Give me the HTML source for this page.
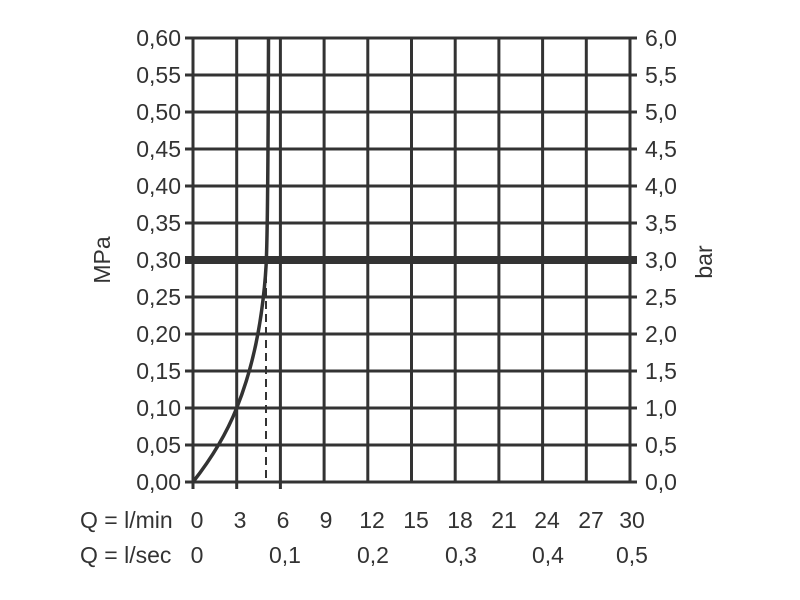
<!DOCTYPE html>
<html><head><style>
html,body{margin:0;padding:0;background:#fff;}
svg{display:block;}
text{font-family:"Liberation Sans",sans-serif;font-size:23px;fill:#333;}
</style></head><body>
<svg width="800" height="600" viewBox="0 0 800 600">
<g stroke="#333" stroke-width="3" fill="none">
<line x1="185" y1="38" x2="637" y2="38"/>
<line x1="185" y1="75" x2="637" y2="75"/>
<line x1="185" y1="112" x2="637" y2="112"/>
<line x1="185" y1="149" x2="637" y2="149"/>
<line x1="185" y1="186" x2="637" y2="186"/>
<line x1="185" y1="223" x2="637" y2="223"/>
<line x1="185" y1="297" x2="637" y2="297"/>
<line x1="185" y1="334" x2="637" y2="334"/>
<line x1="185" y1="371" x2="637" y2="371"/>
<line x1="185" y1="408" x2="637" y2="408"/>
<line x1="185" y1="445" x2="637" y2="445"/>
<line x1="185" y1="482" x2="637" y2="482"/>
<line x1="193" y1="38" x2="193" y2="489"/>
<line x1="236.7" y1="38" x2="236.7" y2="489"/>
<line x1="280.4" y1="38" x2="280.4" y2="489"/>
<line x1="324.1" y1="38" x2="324.1" y2="482"/>
<line x1="367.8" y1="38" x2="367.8" y2="482"/>
<line x1="411.5" y1="38" x2="411.5" y2="482"/>
<line x1="455.2" y1="38" x2="455.2" y2="482"/>
<line x1="498.9" y1="38" x2="498.9" y2="482"/>
<line x1="542.6" y1="38" x2="542.6" y2="482"/>
<line x1="586.3" y1="38" x2="586.3" y2="482"/>
<line x1="630" y1="38" x2="630" y2="482"/>
</g>
<line x1="185" y1="260" x2="637" y2="260" stroke="#333" stroke-width="8"/>
<line x1="266" y1="262" x2="266" y2="482" stroke="#333" stroke-width="2" stroke-dasharray="8,5"/>
<path d="M193,482 Q222,445 236.7,408 Q256,360 263,300 Q266,275 266.5,255 Q268,210 268.5,38" stroke="#333" stroke-width="3.5" fill="none"/>
<g text-anchor="end">
<text x="181" y="46">0,60</text><text x="181" y="83">0,55</text><text x="181" y="120">0,50</text>
<text x="181" y="157">0,45</text><text x="181" y="194">0,40</text><text x="181" y="231">0,35</text>
<text x="181" y="268">0,30</text><text x="181" y="305">0,25</text><text x="181" y="342">0,20</text>
<text x="181" y="379">0,15</text><text x="181" y="416">0,10</text><text x="181" y="453">0,05</text>
<text x="181" y="490">0,00</text>
</g>
<g>
<text x="645" y="46">6,0</text><text x="645" y="83">5,5</text><text x="645" y="120">5,0</text>
<text x="645" y="157">4,5</text><text x="645" y="194">4,0</text><text x="645" y="231">3,5</text>
<text x="645" y="268">3,0</text><text x="645" y="305">2,5</text><text x="645" y="342">2,0</text>
<text x="645" y="379">1,5</text><text x="645" y="416">1,0</text><text x="645" y="453">0,5</text>
<text x="645" y="490">0,0</text>
</g>
<text transform="translate(110,260) rotate(-90)" text-anchor="middle">MPa</text>
<text transform="translate(712,262) rotate(-90)" text-anchor="middle">bar</text>
<text x="80" y="528">Q = l/min</text>
<g text-anchor="middle">
<text x="197" y="528">0</text><text x="240" y="528">3</text><text x="283" y="528">6</text>
<text x="326" y="528">9</text><text x="372" y="528">12</text><text x="416" y="528">15</text>
<text x="460" y="528">18</text><text x="504" y="528">21</text><text x="547" y="528">24</text>
<text x="591" y="528">27</text><text x="632" y="528">30</text>
</g>
<text x="80" y="563">Q = l/sec</text>
<g text-anchor="middle">
<text x="197" y="563">0</text><text x="285" y="563">0,1</text><text x="373" y="563">0,2</text>
<text x="461" y="563">0,3</text><text x="548" y="563">0,4</text><text x="632" y="563">0,5</text>
</g>
</svg>
</body></html>
